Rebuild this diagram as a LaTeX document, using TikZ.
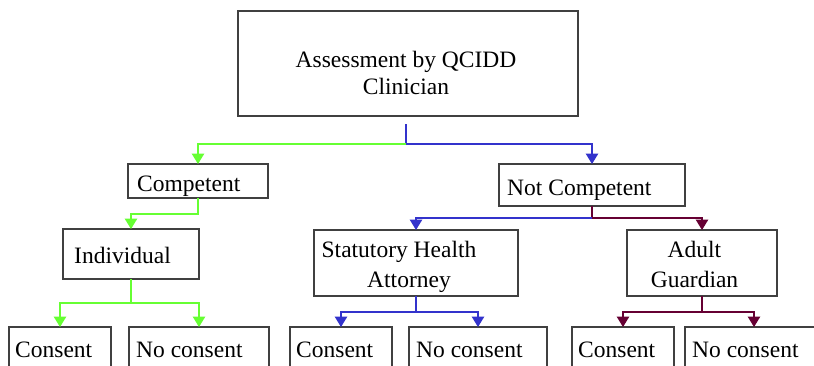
\documentclass[tikz,border=0pt]{standalone}
\usepackage{fontspec}
\setmainfont{Liberation Serif}
\usetikzlibrary{arrows.meta}
\definecolor{lgreen}{RGB}{102,255,51}
\definecolor{lblue}{RGB}{51,51,204}
\definecolor{lmaroon}{RGB}{102,0,51}
\definecolor{boxline}{RGB}{64,64,64}
\tikzset{
  box/.style={draw=boxline, line width=1.3pt, rectangle, inner sep=0pt, outer sep=0pt, anchor=north west},
  txt/.style={inner sep=0pt, font=\fontsize{23.5pt}{28pt}\selectfont},
  conn/.style={line width=1.3pt},
  arr/.style={-{Triangle[width=12.5pt,length=10.5pt]}},
}
\begin{document}
\begin{tikzpicture}[x=1pt,y=-1pt]
\useasboundingbox (0,0) rectangle (814,365);
\fill[white] (0,0) rectangle (814,365);
\clip (0,0) rectangle (814,365);

% boxes
\node[box, minimum width=340pt, minimum height=105pt] (top) at (238,11) {};
\node[box, minimum width=140pt, minimum height=34pt] (comp) at (128,164) {};
\node[box, minimum width=136pt, minimum height=50pt] (ind) at (63,229) {};
\node[box, minimum width=186pt, minimum height=42pt] (notc) at (499,164) {};
\node[box, minimum width=204pt, minimum height=66pt] (stat) at (314,230) {};
\node[box, minimum width=150pt, minimum height=66pt] (adult) at (627,230) {};
\node[box, minimum width=102pt, minimum height=46pt] (c1) at (9,327) {};
\node[box, minimum width=140pt, minimum height=46pt] (n1) at (129,327) {};
\node[box, minimum width=102pt, minimum height=46pt] (c2) at (290,327) {};
\node[box, minimum width=138pt, minimum height=46pt] (n2) at (409,327) {};
\node[box, minimum width=102pt, minimum height=46pt] (c3) at (572,327) {};
\node[box, minimum width=138pt, minimum height=46pt] (n3) at (685,327) {};

% texts
\node[txt, anchor=base] (t1) at (406,67) {Assessment by QCIDD};
\node[txt, anchor=base] (t2) at (406,94) {Clinician};
\node[txt, anchor=base west] (tcomp) at (137,191) {Competent};
\node[txt, anchor=base west] (tind) at (74,263) {Individual};
\node[txt, anchor=base west] (tnotc) at (507,195) {Not Competent};
\node[txt, anchor=base] (ts1) at (399,257) {Statutory Health};
\node[txt, anchor=base] (ts2) at (409,287) {Attorney};
\node[txt, anchor=base] (ta1) at (694.5,257) {Adult};
\node[txt, anchor=base] (ta2) at (694.5,287) {Guardian};
\node[txt, anchor=base west] (tc1) at (15,357) {Consent};
\node[txt, anchor=base west] (tn1) at (136,357) {No consent};
\node[txt, anchor=base west] (tc2) at (296,357) {Consent};
\node[txt, anchor=base west] (tn2) at (416,357) {No consent};
\node[txt, anchor=base west] (tc3) at (578,357) {Consent};
\node[txt, anchor=base west] (tn3) at (692,357) {No consent};

% connectors
\coordinate (t0) at (406,124);
\coordinate (j1) at (406,144);
\draw[conn, lblue] (t0) -- (j1);
\draw[conn, lblue, arr] (j1) -| (notc.north);
\draw[conn, lgreen, arr] (j1) -| (comp.north);

\draw[conn, lgreen, arr] (comp.south) -- ++(0,16) -| (ind.north);

\draw[conn, lgreen] (ind.south) -- ++(0,24) coordinate (ji);
\draw[conn, lgreen, arr] (ji) -| (c1.north);
\draw[conn, lgreen, arr] (ji) -| (n1.north);

\draw[conn, lmaroon] (notc.south) -- ++(0,12) coordinate (jn);
\draw[conn, lblue, arr] (jn) -| (stat.north);
\draw[conn, lmaroon, arr] (jn) -| (adult.north);

\draw[conn, lblue] (stat.south) -- ++(0,16) coordinate (js);
\draw[conn, lblue, arr] (js) -| (c2.north);
\draw[conn, lblue, arr] (js) -| (n2.north);

\draw[conn, lmaroon] (adult.south) -- ++(0,16) coordinate (ja);
\draw[conn, lmaroon, arr] (ja) -| (c3.north);
\draw[conn, lmaroon, arr] (ja) -| (n3.north);
\end{tikzpicture}
\end{document}
